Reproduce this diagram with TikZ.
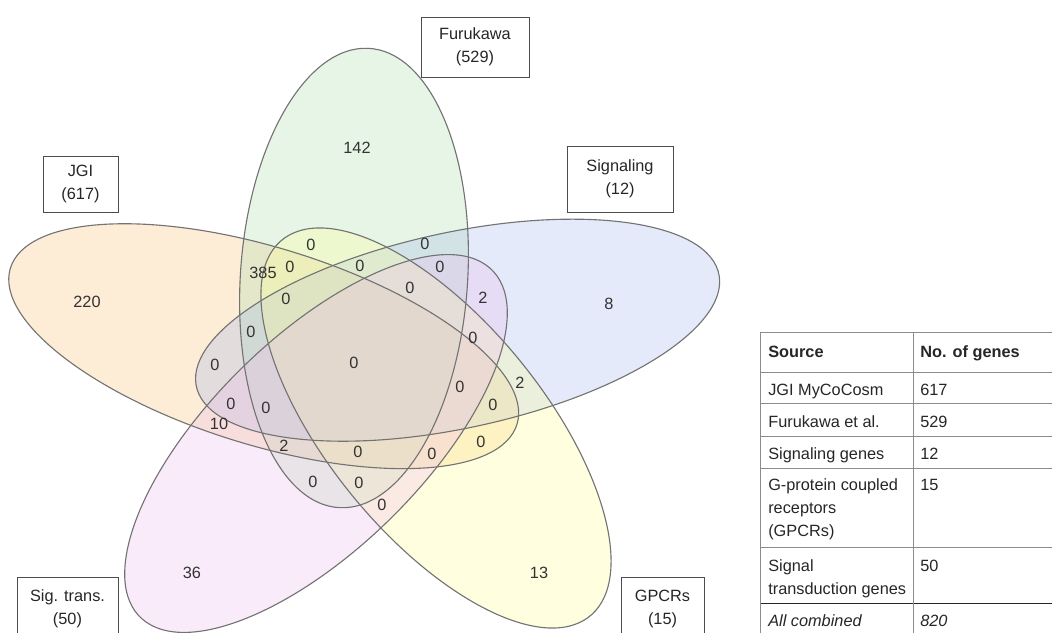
\documentclass[tikz,border=0pt]{standalone}
\usepackage{fontspec}
\setmainfont{Liberation Sans}
\definecolor{vennJGI}{RGB}{248,192,118}
\definecolor{vennFuru}{RGB}{172,222,172}
\definecolor{vennSignal}{RGB}{165,185,238}
\definecolor{vennGPCR}{RGB}{255,255,150}
\definecolor{vennSigTrans}{RGB}{238,188,238}
\tikzset{
  vennline/.style={draw=black!55, line width=0.8pt},
  vennnum/.style={font=\fontsize{11.6}{14}\selectfont, text=black!80, inner sep=0pt},
  setbox/.style={draw=black!70, line width=0.7pt, align=center, inner sep=0pt,
    font=\fontsize{11.6}{16.4}\selectfont, text=black!85},
  cell/.style={anchor=base west, inner sep=0pt, font=\fontsize{11.6}{14}\selectfont, text=black!85},
  tableline/.style={draw=black!45, line width=0.7pt},
}
\begin{document}
\begin{tikzpicture}[x=0.025cm, y=0.025cm]
% Venn diagram of five gene sets, coordinates in pixels of the figure
\def\px{0.025cm}
\def\vennstretch{1.172}
\def\vennmajor{230}
\def\vennminor{97}
\useasboundingbox (0,0) rectangle (1052,632);
% Set fills, one transparent ellipse per set
\begin{scope}[fill opacity=0.3]
  \fill[vennJGI, shift={(263.7,285.8)}, xscale=\vennstretch, rotate=159] (0,0) ellipse [x radius=\vennmajor, y radius=\vennminor];
  \fill[vennFuru, shift={(354,354)}, xscale=\vennstretch, rotate=87] (0,0) ellipse [x radius=\vennmajor, y radius=\vennminor];
  \fill[vennSignal, shift={(457.6,301.8)}, xscale=\vennstretch, rotate=15] (0,0) ellipse [x radius=\vennmajor, y radius=\vennminor];
  \fill[vennGPCR, shift={(436,204)}, xscale=\vennstretch, rotate=-57] (0,0) ellipse [x radius=\vennmajor, y radius=\vennminor];
  \fill[vennSigTrans, shift={(316,188.5)}, xscale=\vennstretch, rotate=-129] (0,0) ellipse [x radius=\vennmajor, y radius=\vennminor];
\end{scope}
% Set outlines
\begin{scope}[vennline]
  \draw[shift={(263.7,285.8)}, xscale=\vennstretch, rotate=159] (0,0) ellipse [x radius=\vennmajor, y radius=\vennminor];
  \draw[shift={(354,354)}, xscale=\vennstretch, rotate=87] (0,0) ellipse [x radius=\vennmajor, y radius=\vennminor];
  \draw[shift={(457.6,301.8)}, xscale=\vennstretch, rotate=15] (0,0) ellipse [x radius=\vennmajor, y radius=\vennminor];
  \draw[shift={(436,204)}, xscale=\vennstretch, rotate=-57] (0,0) ellipse [x radius=\vennmajor, y radius=\vennminor];
  \draw[shift={(316,188.5)}, xscale=\vennstretch, rotate=-129] (0,0) ellipse [x radius=\vennmajor, y radius=\vennminor];
\end{scope}
% Region counts
\foreach \nx/\ny/\nval [count=\k] in {
    357/484/142, 87/330/220, 609/328/8, 192/59/36, 539/59/13,
    263/359/385, 311/387/0, 425/388/0, 290/365/0, 360/366/0, 440/365/0,
    410/344/0, 483/334/2, 286/333/0, 251/300/0, 215/267/0, 354/269/0,
    473/294/0, 520/249/2, 460/245/0, 493/227/0, 231/228/0, 266/224/0,
    219/208/10, 284/186/2, 358/180/0, 432/178/0, 481/190/0, 313/150/0,
    359/149/0, 382/127/0}
  \node[vennnum] (cnt\k) at (\nx,\ny) {\nval};
% Set labels
\node[setbox, minimum width=108*\px, minimum height=60*\px] (furukawa) at (475,585) {Furukawa\\(529)};
\node[setbox, minimum width=75*\px, minimum height=56*\px] (jgi) at (80.5,448) {JGI\\(617)};
\node[setbox, minimum width=106*\px, minimum height=66*\px] (signaling) at (620,453) {Signaling\\(12)};
\node[setbox, minimum width=101*\px, minimum height=64*\px] (sigtrans) at (67.5,23) {Sig. trans.\\(50)};
\node[setbox, minimum width=83*\px, minimum height=64*\px] (gpcrs) at (662.5,23) {GPCRs\\(15)};
% Table of sources
\draw[tableline] (760,300) -- (1052,300);
\draw[tableline] (760,260) -- (1052,260);
\draw[tableline] (760,229) -- (1052,229);
\draw[tableline] (760,196) -- (1052,196);
\draw[tableline] (760,164) -- (1052,164);
\draw[tableline] (760,85) -- (1052,85);
\draw[tableline, draw=black!85] (760,29) -- (1052,29);
\draw[tableline] (760,300) -- (760,-10);
\draw[tableline] (913,300) -- (913,-10);
\node[cell, font=\fontsize{11.6}{14}\selectfont\bfseries] (hsource) at (768,274) {Source};
\node[cell, font=\fontsize{11.6}{14}\selectfont\bfseries] (hgenes) at (920,274) {No. of genes};
\node[cell] (src1) at (768,236) {JGI MyCoCosm};
\node[cell] (num1) at (920,236) {617};
\node[cell] (src2) at (768,204) {Furukawa et al.};
\node[cell] (num2) at (920,204) {529};
\node[cell] (src3) at (768,173) {Signaling genes};
\node[cell] (num3) at (920,173) {12};
\node[cell] (src4a) at (768,142) {G-protein coupled};
\node[cell] (src4b) at (768,119) {receptors};
\node[cell] (src4c) at (768,96) {(GPCRs)};
\node[cell] (num4) at (920,142) {15};
\node[cell] (src5a) at (768,61) {Signal};
\node[cell] (src5b) at (768,38) {transduction genes};
\node[cell] (num5) at (920,61) {50};
\node[cell, font=\fontsize{11.6}{14}\selectfont\itshape] (srcall) at (768,6) {All combined};
\node[cell, font=\fontsize{11.6}{14}\selectfont\itshape] (numall) at (920,6) {820};
\end{tikzpicture}
\end{document}
